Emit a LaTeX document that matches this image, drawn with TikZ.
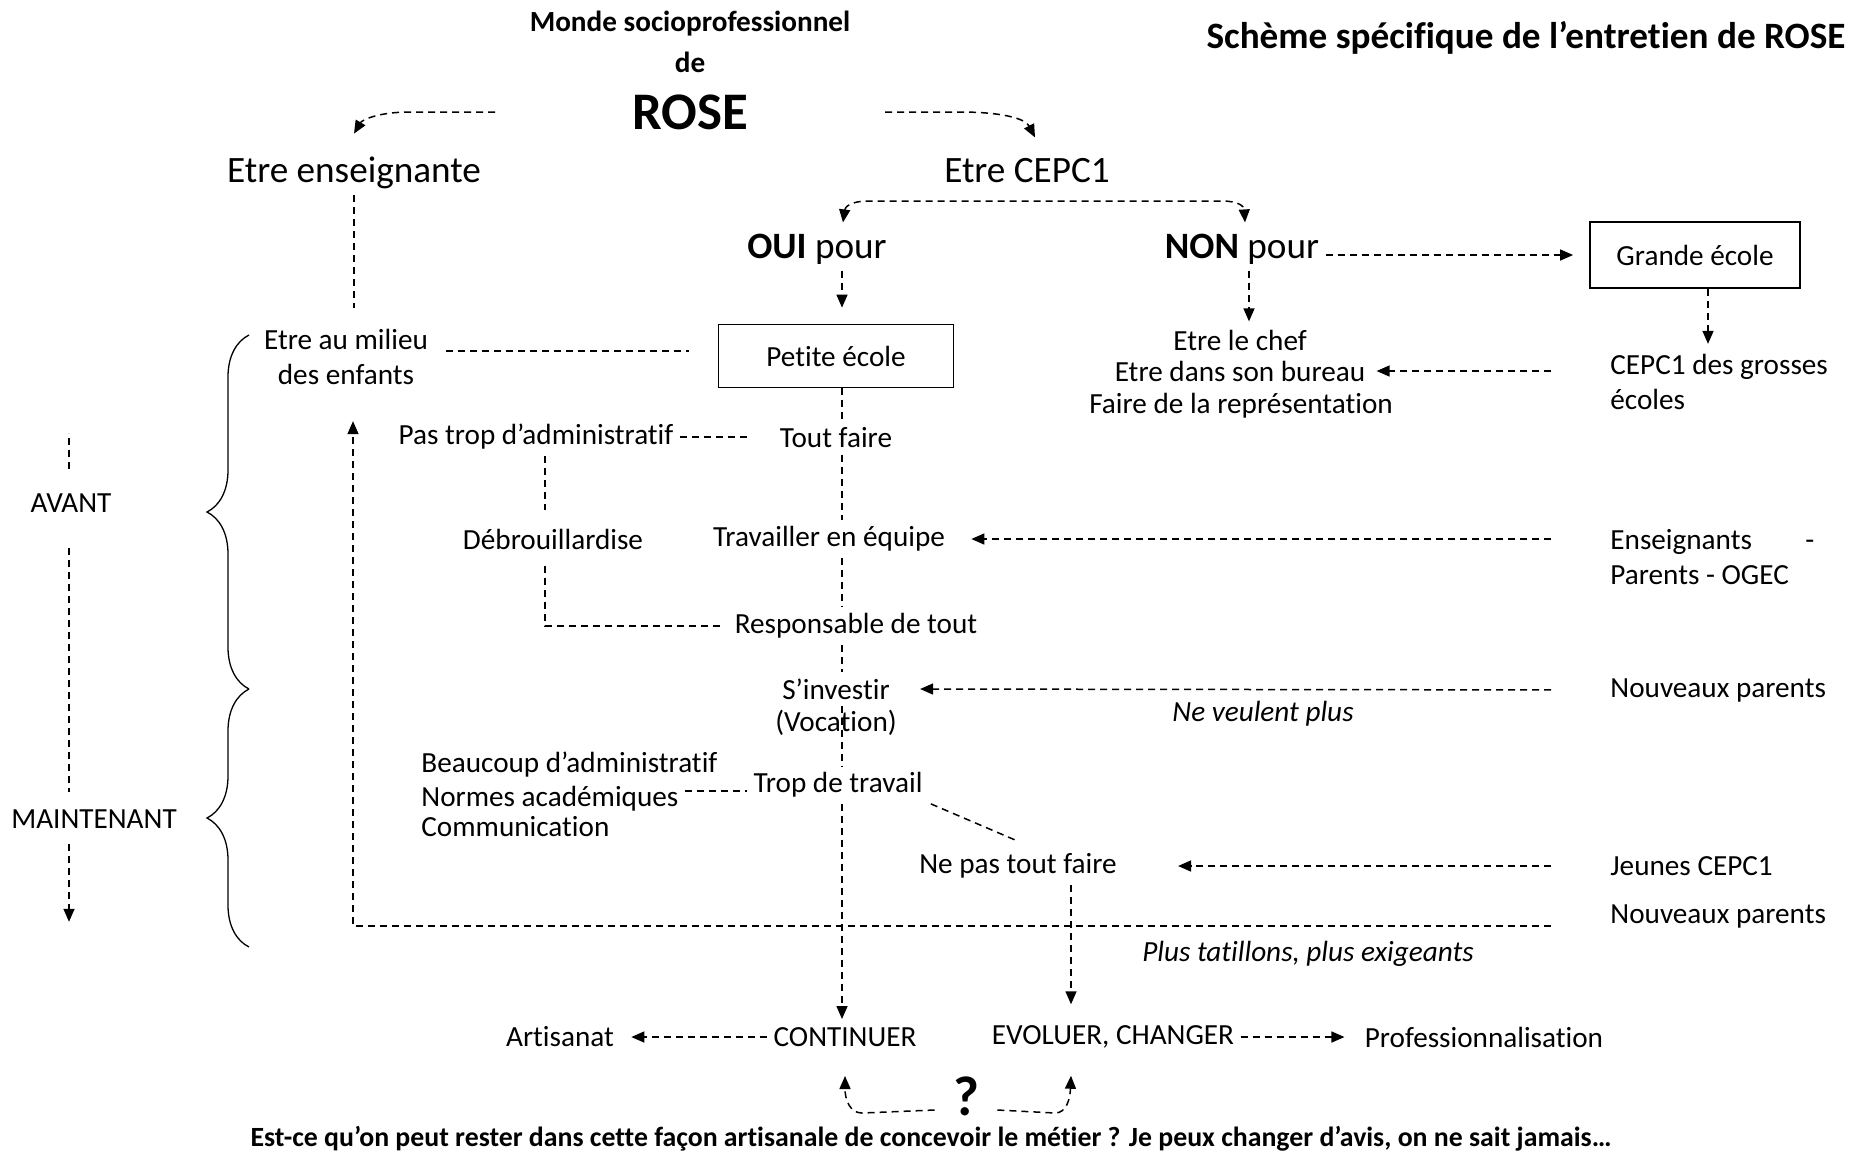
\documentclass[tikz,border=0pt]{standalone}
\usepackage{fontspec}
\setmainfont{Carlito}[RawFeature={-liga;-clig;-calt;-dlig}]
\usetikzlibrary{arrows.meta,decorations.pathreplacing}

\tikzset{
	spitze/.tip={Triangle[length=6.5pt,width=5.5pt]},
	txt/.style={font=\fontsize{14.6}{17.5}\selectfont, inner sep=3pt},
	fett/.style={txt, font=\bfseries\fontsize{14.6}{17.5}\selectfont},
	kursiv/.style={txt, font=\itshape\fontsize{14.6}{17.5}\selectfont},
	gross/.style={txt, font=\fontsize{18.6}{22}\selectfont},
	kasten/.style={txt, draw, line width=0.9pt},
	strich/.style={line width=0.75pt, dash pattern=on 3.5pt off 2.5pt},
	pfeil/.style={strich, -spitze},
	doppelpfeil/.style={strich, spitze-spitze},
	klammer/.style={line width=0.65pt, decorate, decoration={brace, amplitude=21pt}},
}

\begin{document}
\begin{tikzpicture}[x=0.5pt, y=-0.5pt]
	\useasboundingbox (0,0) rectangle (1856,1153);

	% Titel
	\node[fett] (monde) at (690,24) {Monde socioprofessionnel};
	\node[fett] (de) at (690,62) {de};
	\node[txt, font=\bfseries\fontsize{26.4}{30}\selectfont] (rose) at (690,112) {ROSE};
	\node[txt, font=\bfseries\fontsize{18.6}{22}\selectfont, anchor=east] (scheme) at (1852,38) {Schème spécifique de l’entretien de ROSE};

	% Zwei Rollen
	\node[gross] (enseig) at (354,173) {Etre enseignante};
	\node[gross] (cepc) at (1027,171) {Etre CEPC1};
	\coordinate (r1) at (495,112);
	\coordinate (r2) at (885,112);
	\draw[pfeil] (r1) -- (410,112) .. controls (378,112) and (362,120) .. ([yshift=8.5pt]enseig.north);
	\draw[pfeil] (r2) -- (960,112) .. controls (1000,112) and (1025,118) .. ([xshift=4pt,yshift=7.5pt]cepc.north);

	% OUI / NON
	\node[gross] (oui) at (817,249) {\textbf{OUI} pour};
	\node[gross] (non) at (1242,249) {\textbf{NON} pour};
	\draw[doppelpfeil] ([xshift=13pt,yshift=2.5pt]oui.north) .. controls (845,207) and (851,201) .. (868,201) -- (1222,201) .. controls (1238,201) and (1244,206) .. ([xshift=1.5pt,yshift=2.5pt]non.north);

	% Petite ecole
	\node[kasten, minimum width=117.5pt, minimum height=31.5pt] (petite) at (836,356) {Petite école};
	\draw[pfeil] ([xshift=12.5pt]oui.south) -- ([xshift=3pt,yshift=8pt]petite.north);

	% NON pour
	\node[txt] (chef) at (1240,340) {Etre le chef};
	\node[txt] (bureau) at (1240,371) {Etre dans son bureau};
	\node[txt] (repres) at (1241,406) {Faire de la représentation};
	\draw[pfeil] ([xshift=3.5pt]non.south) -- ([xshift=4.5pt,yshift=1pt]chef.north);
	\node[kasten, minimum width=105pt, minimum height=33pt] (grande) at (1695,255) {Grande école};
	\draw[pfeil] (non.east |- grande) -- ([xshift=-8pt]grande.west);
	\node[txt, align=left, anchor=west] (grosses) at (1604,382) {CEPC1 des grosses\\écoles};
	\draw[pfeil] ([xshift=6.5pt]grande.south) -- ([xshift=6.5pt,yshift=2pt]grande.south |- grosses.north);
	\draw[pfeil, shorten <=26.5pt] (grosses.west |- bureau) -- ([xshift=2.5pt]bureau.east);

	% Etre enseignante
	\node[txt, align=center] (milieu) at (346,357) {Etre au milieu\\des enfants};
	\draw[strich] (enseig.south) -- ([yshift=7.5pt]enseig.south |- milieu.north);
	\draw[strich] ([xshift=6pt,yshift=3pt]milieu.east) -- ([xshift=-14.5pt,yshift=3pt]milieu.east -| petite.west);

	% Mittlere Achse
	\coordinate (achse) at (842,0);
	\coordinate (linie) at (545,0);
	\node[txt] (pastrop) at (536,437) {Pas trop d’administratif};
	\node[txt] (toutfaire) at (836,438) {Tout faire};
	\draw[strich] (petite.south -| achse) -- (toutfaire.north -| achse);
	\draw[strich] (pastrop.east) -- ([xshift=-13pt]toutfaire.west |- pastrop.east);
	\node[txt] (debrouil) at (553,539) {Débrouillardise};
	\node[txt] (equipe) at (829,539) {Travailler en équipe};
	\draw[strich] (toutfaire.south -| achse) -- (equipe.north -| achse);
	\draw[strich] (pastrop.south -| linie) -- ([yshift=6pt]debrouil.north -| linie);
	\node[txt] (respons) at (856,626) {Responsable de tout};
	\draw[strich] ([yshift=-5pt]debrouil.south -| linie) -- (linie |- respons) -- ([xshift=-3pt]respons.west);
	\draw[strich] (equipe.south -| achse) -- (respons.north -| achse);
	\node[txt] (invest) at (836,689) {S’investir};
	\node[txt] (vocation) at (836,723) {(Vocation)};
	\draw[strich] (respons.south -| achse) -- (invest.north -| achse);
	\node[txt] (trop) at (838,785) {Trop de travail};
	\draw[strich] (invest.south -| achse) -- (trop.north -| achse);

	% Rechte Seite
	\node[txt, align=left, anchor=west] (ensg) at (1604,557) {\makebox[102pt][l]{Enseignants\hfill-}\\Parents - OGEC};
	\draw[pfeil, shorten <=26.5pt] (ensg.west |- equipe) -- ([xshift=10pt]equipe.east);
	\node[txt, anchor=west] (nouv1) at (1604,690) {Nouveaux parents};
	\draw[pfeil, shorten <=26.5pt] (nouv1.west) -- ([xshift=12pt]invest.east);
	\node[kursiv] (veulent) at (1263,714) {Ne veulent plus};

	% Maintenant
	\node[txt, anchor=west] (beaucoup) at (415,765) {Beaucoup d’administratif};
	\node[txt, anchor=west] (normes) at (415,799) {Normes académiques};
	\node[txt, anchor=west] (commun) at (415,827) {Communication};
	\draw[strich] ([yshift=4pt]normes.east) -- ([yshift=-3pt]trop.west);
	\node[txt] (nepas) at (1018,866) {Ne pas tout faire};
	\draw[strich] ([xshift=1pt]trop.south east) -- ([yshift=3pt]nepas.north);
	\node[txt, anchor=west] (jeunes) at (1604,866) {Jeunes CEPC1};
	\draw[pfeil, shorten <=26.5pt] (jeunes.west) -- ([xshift=27.5pt]nepas.east);
	\node[txt, anchor=west] (nouv2) at (1604,916) {Nouveaux parents};
	\draw[pfeil, shorten <=26.5pt] ([yshift=-5pt]nouv2.west) -| ([xshift=3.5pt,yshift=-15pt]milieu.south);
	\node[kursiv] (tatillons) at (1308,954) {Plus tatillons, plus exigeants};

	% Ausgang
	\node[txt] (continuer) at (845,1037) {CONTINUER};
	\node[txt] (evoluer) at (1113,1037) {EVOLUER, CHANGER};
	\node[txt] (artisanat) at (560,1037) {Artisanat};
	\node[txt] (profes) at (1484,1037) {Professionnalisation};
	\draw[pfeil] (trop.south -| achse) -- ([yshift=1pt]continuer.north -| achse);
	\draw[pfeil] ([xshift=26.5pt]nepas.south) -- ([xshift=26.5pt,yshift=7.5pt]nepas.south |- evoluer.north);
	\draw[pfeil] (continuer.west) -- ([xshift=5.5pt]artisanat.east);
	\draw[pfeil] (evoluer.east) -- ([xshift=-7pt]profes.west);

	% Frage
	\node[txt, font=\bfseries\fontsize{28}{30}\selectfont, inner sep=0pt] (frage) at (966,1096) {?};
	\draw[pfeil] ([xshift=-9pt,yshift=-7pt]frage.west) -- (862,1113) .. controls (850,1113) and (845,1100) .. ([yshift=-11.5pt]continuer.south);
	\draw[pfeil] ([xshift=9pt,yshift=-7pt]frage.east) -- (1055,1113) .. controls (1066,1113) and (1070,1100) .. ([xshift=-21pt,yshift=-10.5pt]evoluer.south);
	\node[txt, font=\bfseries\fontsize{13.9}{16}\selectfont] (satz) at (931,1139) {Est-ce qu’on peut rester dans cette façon artisanale de concevoir le métier ? Je peux changer d’avis, on ne sait jamais…};

	% Zeitachse
	\node[txt] (avant) at (71,503) {AVANT};
	\node[txt] (maint) at (94,819) {MAINTENANT};
	\draw[strich] ([xshift=-1pt,yshift=9pt]avant.north) -- ++(0,-36);
	\draw[strich] ([xshift=-1pt,yshift=-14.5pt]avant.south) -- ([xshift=-1pt,yshift=5.5pt]avant.south |- maint.north);
	\draw[pfeil] ([xshift=-1pt,yshift=-4.5pt]avant.south |- maint.south) -- ++(0,78);

	% Klammern
	\draw[klammer] (249,689) -- (249,335);
	\draw[klammer] (249,947) -- (249,689);
\end{tikzpicture}
\end{document}
